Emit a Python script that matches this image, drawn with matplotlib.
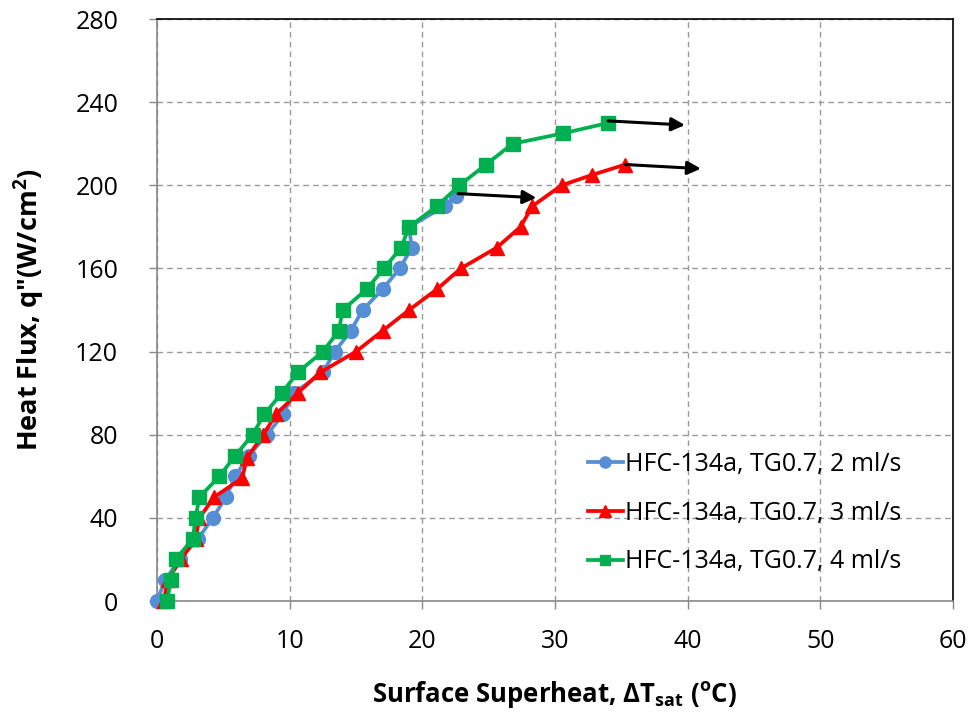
import matplotlib.pyplot as plt
from matplotlib.ticker import MultipleLocator

# < data >-------------------------------------------------------------------------------------

# 2 ml/s
x_2ml = [0.0, 0.6, 1.7, 3.1, 4.2, 5.2, 5.9, 6.9, 8.3, 9.5, 10.3, 12.5, 13.4, 14.6, 15.5,
         17.0, 18.3, 19.2, 19.0, 21.7, 22.5]
q_2ml = [0, 10, 20, 30, 40, 50, 60, 70, 80, 90, 100, 110, 120, 130, 140,
         150, 160, 170, 180, 190, 195]

# 3 ml/s
x_3ml = [0.5, 0.8, 1.8, 2.9, 3.2, 4.3, 6.4, 6.8, 8.0, 9.0, 10.6, 12.3, 15.0, 17.0, 19.0,
         21.1, 22.9, 25.6, 27.4, 28.3, 30.5, 32.8, 35.3]
q_3ml = [0, 10, 20, 30, 40, 50, 59, 69, 80, 90, 100, 110, 120, 130, 140,
         150, 160, 170, 180, 190, 200, 205, 210]

# 4 ml/s
x_4ml = [0.75, 1.05, 1.4, 2.7, 2.9, 3.2, 4.7, 5.9, 7.2, 8.1, 9.4, 10.6, 12.5, 13.7, 14.0,
         15.8, 17.1, 18.4, 19.0, 21.1, 22.8, 24.8, 26.8, 30.6, 34.0]
q_4ml = [0, 10, 20, 30, 40, 50, 60, 70, 80, 90, 100, 110, 120, 130, 140,
         150, 160, 170, 180, 190, 200, 210, 220, 225, 230]

labels = ["HFC-134a, TG0.7, 2 ml/s", "HFC-134a, TG0.7, 3 ml/s", "HFC-134a, TG0.7, 4 ml/s"]

# arrows marking the end of each run (start, end)
arrows = [((22.7, 196), (28.6, 194)),
          ((35.3, 210), (41.0, 208)),
          ((34.0, 231), (39.8, 229))]

# < plot >-------------------------------------------------------------------------------------

plt.rcParams['font.family'] = ['Open Sans', 'DejaVu Sans']
plt.rcParams['mathtext.default'] = 'regular'

fig = plt.figure(figsize=(9.76, 7.21), dpi=100)
ax = fig.add_axes([0.1609, 0.1664, 0.8155, 0.8072])

ax.plot(x_2ml, q_2ml, color='#558ED5', lw=2.7, marker='o', ms=10, label=labels[0],
        zorder=3, clip_on=False)
ax.plot(x_3ml, q_3ml, color='#FF0000', lw=2.7, marker='^', ms=10, label=labels[1],
        zorder=4, clip_on=False)
ax.plot(x_4ml, q_4ml, color='#00B050', lw=2.7, marker='s', ms=9.5, label=labels[2],
        zorder=5, clip_on=False)

for (x0, y0), (x1, y1) in arrows:
    ax.annotate('', xy=(x1, y1), xytext=(x0, y0),
                arrowprops=dict(arrowstyle='-|>', color='black', lw=2.2,
                                mutation_scale=20, shrinkA=0, shrinkB=0),
                zorder=6)

ax.set_xlim(0, 60)
ax.set_ylim(0, 280)
ax.xaxis.set_major_locator(MultipleLocator(10))
ax.yaxis.set_major_locator(MultipleLocator(40))

ax.grid(True, color='#999999', linestyle=(0, (4, 3)), lw=1)
ax.set_axisbelow(True)

for side in ['left', 'bottom']:
    ax.spines[side].set_color('#888888')
    ax.spines[side].set_linewidth(1.2)
for side in ['top', 'right']:
    ax.spines[side].set_color('black')
    ax.spines[side].set_linewidth(1.2)

ax.tick_params(axis='both', labelsize=18, colors='#888888', labelcolor='black',
               length=6, width=1, direction='out')
ax.tick_params(axis='x', pad=14)
ax.tick_params(axis='y', pad=22)

ax.set_xlabel('Surface Superheat, ΔT$_{sat}$ ($^{o}$C)', fontsize=18.5, fontweight='bold',
              labelpad=18)
ax.set_ylabel('Heat Flux, q"(W/cm$^{2}$)', fontsize=19.5, fontweight='bold', labelpad=20)

ax.legend(loc='upper left', bbox_to_anchor=(0.513, 0.295), frameon=False, fontsize=18,
          handlelength=1.4, handletextpad=0.1, labelspacing=0.95, markerscale=0.8)

fig.savefig('out.png', dpi=100)
